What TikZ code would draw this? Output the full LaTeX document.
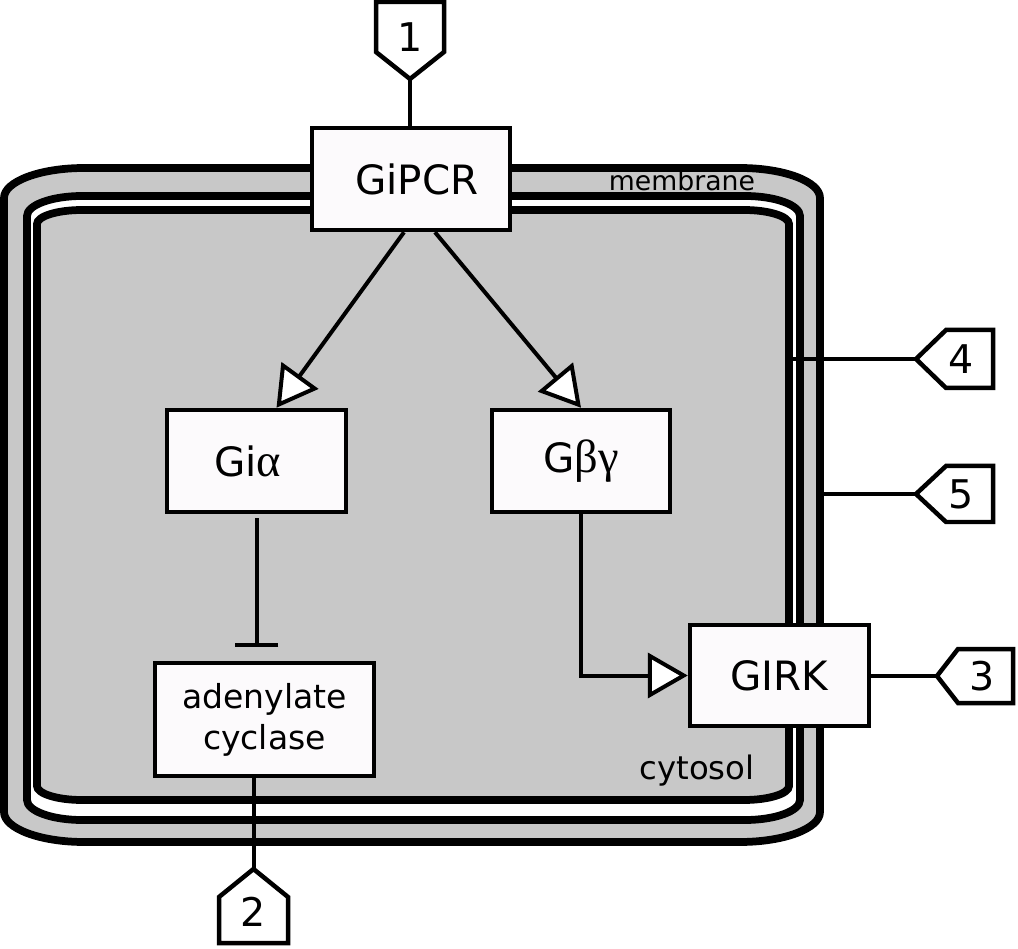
\documentclass[tikz,border=0pt]{standalone}
\usepackage{fontspec}
\setmainfont{DejaVu Sans}
\newfontfamily\greekfont[Scale=1.15]{Liberation Serif}
\usetikzlibrary{arrows.meta}
\definecolor{cell_gray}{HTML}{C8C8C8}
\definecolor{box_white}{HTML}{FCFAFC}

%% Rechteck mit elliptischen Ecken: x1, y1, x2, y2, rx, ry
\newcommand{\ovalrect}[6]{(#1,#2+#6)
    .. controls (#1,#2+0.45*#6) and (#1+0.45*#5,#2) .. (#1+#5,#2) -- (#3-#5,#2)
    .. controls (#3-0.45*#5,#2) and (#3,#2+0.45*#6) .. (#3,#2+#6) -- (#3,#4-#6)
    .. controls (#3,#4-0.45*#6) and (#3-0.45*#5,#4) .. (#3-#5,#4) -- (#1+#5,#4)
    .. controls (#1+0.45*#5,#4) and (#1,#4-0.45*#6) .. (#1,#4-#6) -- cycle}

\begin{document}
\begin{tikzpicture}[
    x=0.02cm, y=-0.02cm,
    membrane/.style={draw=black, line width=0.155cm},
    protein/.style={draw=black, line width=0.09cm, fill=box_white, inner sep=0pt, align=center,
                    font=\fontsize{23}{27}\selectfont},
    tagline/.style={draw=black, line width=0.09cm, fill=white, line join=miter},
    taglabel/.style={inner sep=0pt, font=\fontsize{22.5}{26}\selectfont},
    link/.style={draw=black, line width=0.08cm},
    activates/.style={link, -{Triangle[length=0.8cm, width=0.9cm, fill=white]}},
    inhibits/.style={link, -{Bar[width=0.88cm]}}
]
\useasboundingbox (0,0) rectangle (1018,949);

%% ---- Zellmembran (drei Linien) ----
\filldraw[membrane, fill=cell_gray] \ovalrect{4}{168}{820}{842}{80}{30};
\filldraw[membrane, fill=white] \ovalrect{27}{196}{800}{820}{55}{20};
\filldraw[membrane, fill=cell_gray] \ovalrect{37}{210}{789}{800}{45}{14};
\coordinate (cytoedge) at (789,0);
\coordinate (celledge) at (820,0);

\node[font=\fontsize{15.2}{18}\selectfont] (membranelabel) at (682,181) {membrane};
\node[font=\fontsize{18.4}{22}\selectfont] (cytosollabel) at (697,771) {cytosol};

%% ---- Proteine ----
\node[protein, minimum width=3.96cm, minimum height=2.04cm] (gipcr) at (411,179) {\kern0.24cm GiPCR};
\node[protein, minimum width=3.58cm, minimum height=2.04cm] (gia) at (256.5,461) {Gi{\greekfont α}\kern0.36cm};
\node[protein, minimum width=3.56cm, minimum height=2.04cm] (gbg) at (581,461) {G{\greekfont βγ}};
\node[protein, minimum width=4.38cm, minimum height=2.26cm,
      font=\fontsize{18.8}{23.3}\selectfont] (ac) at (264.5,719.5) {adenylate\\cyclase};
\node[protein, minimum width=3.58cm, minimum height=2.02cm] (girk) at (779.5,675.5) {GIRK};

%% ---- Marken 1 bis 5 (Fuenfecke, Spitze zum Anschluss) ----
\filldraw[tagline] (376,2) -- (444,2) -- (444,52) -- (410,79) coordinate (t1tip) -- (376,52) -- cycle;
\filldraw[tagline] (219,943) -- (288,943) -- (288,897) -- (253.5,869) coordinate (t2tip) -- (219,897) -- cycle;
\filldraw[tagline] (1013,649) -- (1013,703) -- (958,703) -- (937,676) coordinate (t3tip) -- (958,649) -- cycle;
\filldraw[tagline] (993,330) -- (993,388) -- (946,388) -- (916,359) coordinate (t4tip) -- (946,330) -- cycle;
\filldraw[tagline] (993,466) -- (993,522) -- (946,522) -- (916,494) coordinate (t5tip) -- (946,466) -- cycle;

\node[taglabel] (t1) at (410,37) {1};
\node[taglabel] (t2) at (253.5,912) {2};
\node[taglabel] (t3) at (982,676) {3};
\node[taglabel] (t4) at (961,359) {4};
\node[taglabel] (t5) at (961,494) {5};

%% ---- Verbindungen ----
\draw[link] (t1tip) -- (t1tip |- gipcr.north);
\draw[activates] ([shift={(-7,0)}]gipcr.south) -- ([shift={(20,0)}]gia.north);
\draw[activates] ([shift={(24,0)}]gipcr.south) -- (gbg.north);
\draw[inhibits, shorten <=0.08cm, shorten >=0.28cm] (gia.south) -- (gia.south |- ac.north);
\draw[activates] (gbg.south) |- (girk.west);
\draw[link] (ac.south -| t2tip) -- (t2tip);
\draw[link] (girk.east) -- (girk.east -| t3tip);
\draw[link] (t4tip) -- (t4tip -| cytoedge);
\draw[link] (t5tip) -- (t5tip -| celledge);

\end{tikzpicture}
\end{document}
